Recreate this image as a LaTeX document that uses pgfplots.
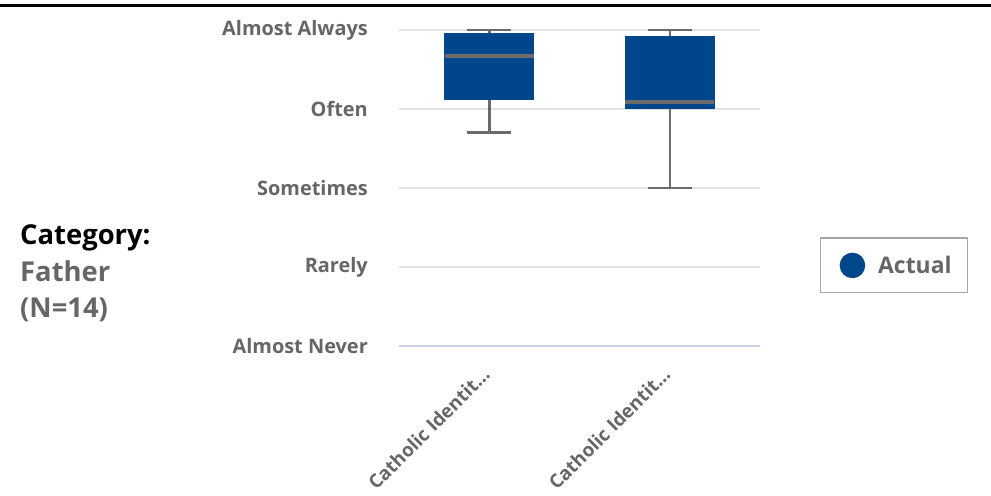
\documentclass[border=0pt]{standalone}
\usepackage{pgfplots}
\pgfplotsset{compat=1.18}
\usepgfplotslibrary{statistics}
\usepackage{fontspec}
\setmainfont{Open Sans}

\definecolor{boxblue}{HTML}{00468B}
\definecolor{whiskgray}{HTML}{6B6B6B}
\definecolor{labgray}{HTML}{666666}
\definecolor{gridgray}{HTML}{E2E2E2}
\definecolor{baseblue}{HTML}{C9D4E7}
\definecolor{legframe}{HTML}{A6A6A6}

\begin{document}
\begin{tikzpicture}[x=1bp,y=1bp]
\useasboundingbox (0,0) rectangle (991,496);
\draw[black, line width=3bp] (0,490) -- (991,490);
\node[anchor=base west, inner sep=0, font=\fontsize{27.5}{31}\selectfont\bfseries] at (20,251) {Category:};
\node[anchor=base west, inner sep=0, text=labgray, font=\fontsize{27.5}{31}\selectfont\bfseries] at (20,214) {Father};
\node[anchor=base west, inner sep=0, text=labgray, font=\fontsize{27.5}{31}\selectfont\bfseries] at (20,178) {(N=14)};

\begin{axis}[
  at={(399bp,150bp)}, anchor=south west,
  scale only axis, width=361bp, height=316bp,
  xmin=0.5, xmax=2.5, ymin=1, ymax=5,
  clip=false,
  axis x line=bottom, axis y line=left,
  x axis line style={-, baseblue, line width=1.5bp},
  y axis line style={draw=none},
  major tick length=0,
  xtick={1,2},
  xticklabels={Catholic Identit\ldots, Catholic Identit\ldots},
  ytick={1,2,3,4,5},
  yticklabels={Almost Never, Rarely, Sometimes, Often, Almost Always},
  ymajorgrids, grid style={gridgray, line width=2bp},
  tick label style={font=\fontsize{20}{24}\selectfont\bfseries, text=labgray},
  yticklabel style={inner sep=0, xshift=-31bp, anchor=east},
  xticklabel style={font=\fontsize{19}{23}\selectfont\bfseries, yshift=-25bp, xshift=-3bp, rotate=45, anchor=east, inner sep=0},
  boxplot/draw direction=y,
  boxplot/box extend=0.5,
  boxplot/whisker extend=0.244,
  boxplot/every box/.style={fill=boxblue, draw=none},
  boxplot/every whisker/.style={whiskgray, line width=2.5bp},
  boxplot/every median/.style={whiskgray, line width=3.5bp, shorten <=0.8bp, shorten >=0.8bp},
  legend style={at={(1.166,0.255)}, anchor=west, draw=legframe, line width=1.5bp,
    font=\fontsize{23}{27}\selectfont\bfseries, text=labgray,
    inner xsep=14bp, inner ysep=14.5bp,
    /tikz/every odd column/.append style={column sep=11bp}},
]
\addplot[boxplot prepared={lower whisker=3.7, lower quartile=4.12, median=4.67,
  upper quartile=4.96, upper whisker=5, draw position=1}, forget plot] coordinates {};
\addplot[boxplot prepared={lower whisker=3.0, lower quartile=4.0, median=4.09,
  upper quartile=4.92, upper whisker=5, draw position=2}, forget plot] coordinates {};
\addlegendimage{legend image code/.code={\path (-17bp,0bp); \fill[boxblue] (0bp,0bp) circle (12bp);}}
\addlegendentry{Actual}
\end{axis}
\end{tikzpicture}
\end{document}
